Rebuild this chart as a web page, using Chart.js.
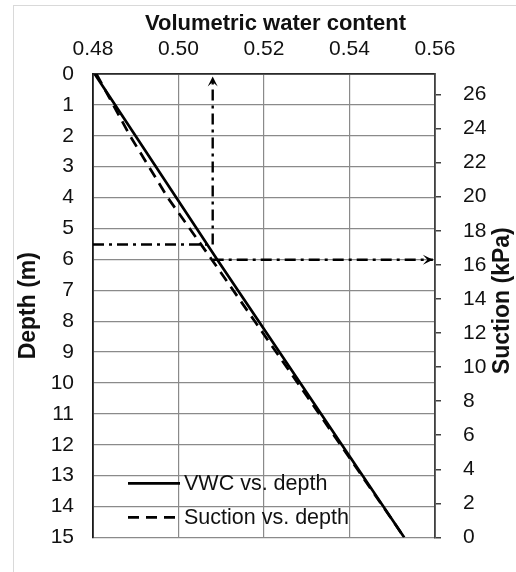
<!DOCTYPE html>
<html>
<head>
<meta charset="utf-8">
<script src="https://cdn.jsdelivr.net/npm/chart.js@4.4.1/dist/chart.umd.min.js"></script>
<style>
  html, body { margin: 0; padding: 0; background: #fff; }
  #frame { position: absolute; left: 13px; top: 5px; width: 540px; height: 600px;
           border-left: 1px solid #d9d9d9; border-top: 1px solid #d9d9d9; }
  #wrap { position: absolute; left: 0; top: 0; width: 516px; height: 572px; }
</style>
</head>
<body>
<div id="frame"></div>
<div id="wrap"><canvas id="chart"></canvas></div>
<script>
// VWC profile (x = volumetric water content, y = depth in m)
const vwcDepth = [0, 6, 15];
const vwcValues = [0.4804, 0.5090, 0.5528];

// suction profile (x = volumetric water content, y = suction in kPa)
const suctionVwc = [0.4808, 0.4886, 0.4976, 0.5078, 0.5178, 0.5278, 0.5380, 0.5528];
const suctionKPa = [27.2, 23.6, 19.9, 16.3, 12.7, 9.1, 5.4, 0];

// reading guide: depth -> VWC -> suction
const guideDepth = 5.52;
const guideVwc = 0.508;
const guideSuction = 16.3;

const vwcTicks = [0.48, 0.50, 0.52, 0.54, 0.56];
const suctionTicks = [0, 2, 4, 6, 8, 10, 12, 14, 16, 18, 20, 22, 24, 26];

const FONT = "'Liberation Sans', Arial, sans-serif";
Chart.defaults.font.family = FONT;
Chart.defaults.font.size = 21;
Chart.defaults.color = '#111';

const pts = (xs, ys) => xs.map((x, i) => ({ x: x, y: ys[i] }));
const dashDot = [11, 5, 3, 5];

const datasets = [
  { label: 'VWC vs. depth', data: pts(vwcValues, vwcDepth), yAxisID: 'y',
    borderColor: '#000', borderWidth: 2.7 },
  { label: 'Suction vs. depth', data: pts(suctionVwc, suctionKPa), yAxisID: 'y2',
    borderColor: '#000', borderWidth: 2.7, borderDash: [11, 7] },
  { label: '', data: pts([0.48, guideVwc], [guideDepth, guideDepth]), yAxisID: 'y',
    borderColor: '#000', borderWidth: 2.4, borderDash: dashDot },
  { label: '', arrow: true, data: pts([guideVwc, guideVwc], [guideDepth, 0.08]), yAxisID: 'y',
    borderColor: '#000', borderWidth: 2.4, borderDash: dashDot },
  { label: '', arrow: true, data: pts([guideVwc, 0.5595], [guideSuction, guideSuction]), yAxisID: 'y2',
    borderColor: '#000', borderWidth: 2.4, borderDash: dashDot }
];
datasets.forEach(d => { d.showLine = true; d.pointRadius = 0; d.fill = false; d.xAxisID = 'x'; });

// small stealth arrow heads at the end of the guide lines
const arrowHeads = {
  id: 'arrowHeads',
  afterDatasetsDraw(chart) {
    const ctx = chart.ctx;
    chart.data.datasets.forEach((ds, i) => {
      if (!ds.arrow) return;
      const p = chart.getDatasetMeta(i).data;
      const a = p[p.length - 2], b = p[p.length - 1];
      const ang = Math.atan2(b.y - a.y, b.x - a.x);
      const L = 10, W = 5;
      const c = Math.cos(ang), s = Math.sin(ang);
      ctx.save();
      ctx.fillStyle = '#000';
      ctx.beginPath();
      ctx.moveTo(b.x, b.y);
      ctx.lineTo(b.x - L * c - W * s, b.y - L * s + W * c);
      ctx.lineTo(b.x - 0.55 * L * c, b.y - 0.55 * L * s);
      ctx.lineTo(b.x - L * c + W * s, b.y - L * s - W * c);
      ctx.closePath();
      ctx.fill();
      ctx.restore();
    });
  }
};

// legend sits inside the plot, lower left
const innerLegend = {
  id: 'innerLegend',
  afterDatasetsDraw(chart) {
    const ctx = chart.ctx, area = chart.chartArea;
    ctx.save();
    [0, 1].forEach((idx, r) => {
      const ds = chart.data.datasets[idx];
      const y = area.bottom - 54 + r * 34;
      const x0 = area.left + 35, x1 = area.left + 87;
      ctx.strokeStyle = ds.borderColor;
      ctx.lineWidth = ds.borderWidth;
      ctx.setLineDash(ds.borderDash || []);
      ctx.beginPath();
      ctx.moveTo(x0, y);
      ctx.lineTo(x1, y);
      ctx.stroke();
      ctx.setLineDash([]);
      ctx.fillStyle = '#111';
      ctx.font = '21.5px ' + FONT;
      ctx.textAlign = 'left';
      ctx.textBaseline = 'middle';
      ctx.fillText(ds.label, x1 + 4, y + 1);
    });
    ctx.restore();
  }
};

// axis titles (the suction title reads bottom to top)
const axisTitles = {
  id: 'axisTitles',
  afterDraw(chart) {
    const ctx = chart.ctx, area = chart.chartArea;
    const midY = (area.top + area.bottom) / 2;
    ctx.save();
    ctx.fillStyle = '#111';
    ctx.font = 'bold 22px ' + FONT;
    ctx.textAlign = 'center';
    ctx.textBaseline = 'alphabetic';
    ctx.fillText('Volumetric water content', 275.5, 30);

    ctx.font = 'bold 23px ' + FONT;
    ctx.textBaseline = 'middle';
    ctx.translate(29, midY);
    ctx.rotate(-Math.PI / 2);
    ctx.fillText('Depth (m)', 0, 0);
    ctx.restore();

    ctx.save();
    ctx.fillStyle = '#111';
    ctx.font = 'bold 23px ' + FONT;
    ctx.textAlign = 'center';
    ctx.textBaseline = 'middle';
    ctx.translate(503, midY - 5);
    ctx.rotate(-Math.PI / 2);
    ctx.fillText('Suction (kPa)', 0, 0);
    ctx.restore();
  }
};

new Chart(document.getElementById('chart'), {
  type: 'scatter',
  data: { datasets: datasets },
  plugins: [arrowHeads, innerLegend, axisTitles],
  options: {
    responsive: true,
    maintainAspectRatio: false,
    animation: false,
    layout: { padding: { top: 0, left: 0, right: 0, bottom: 18 } },
    plugins: { legend: { display: false }, tooltip: { enabled: false } },
    scales: {
      x: {
        type: 'linear', position: 'top', min: 0.48, max: 0.56,
        afterBuildTicks: s => { s.ticks = vwcTicks.map(v => ({ value: v })); },
        ticks: { padding: 12, callback: v => v.toFixed(2) },
        grid: { color: '#8a8a8a', lineWidth: 1.2, drawTicks: false },
        border: { color: '#2a2a2a', width: 1.8 },
        afterFit: s => { s.height = 74; }
      },
      y: {
        type: 'linear', position: 'left', min: 0, max: 15, reverse: true,
        ticks: { stepSize: 1, padding: 19 },
        grid: { color: '#8a8a8a', lineWidth: 1.2, drawTicks: false },
        border: { color: '#1a1a1a', width: 1.8 },
        afterFit: s => { s.width = 93; }
      },
      y2: {
        type: 'linear', position: 'right', min: 0, max: 27.2,
        afterBuildTicks: s => { s.ticks = suctionTicks.map(v => ({ value: v })); },
        ticks: { padding: 22 },
        grid: { drawOnChartArea: false, drawTicks: true, tickLength: 6, color: '#404040', lineWidth: 1.5 },
        border: { color: '#404040', width: 1.8 },
        afterFit: s => { s.width = 81; }
      }
    }
  }
});
</script>
</body>
</html>
